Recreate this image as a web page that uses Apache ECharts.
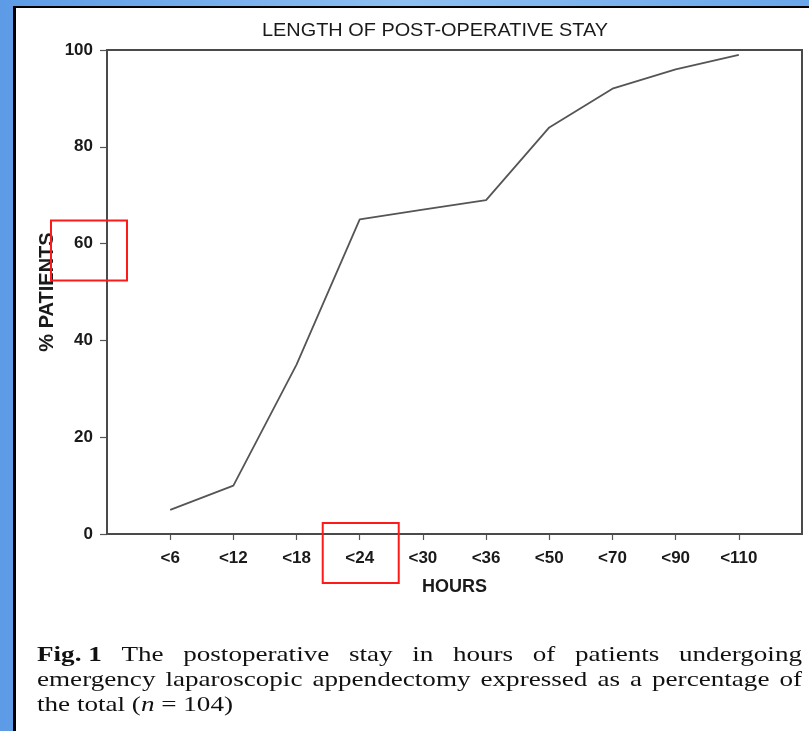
<!DOCTYPE html>
<html>
<head>
<meta charset="utf-8">
<script src="https://cdn.jsdelivr.net/npm/echarts@6/dist/echarts.min.js"></script>
<style>
html,body{margin:0;padding:0;background:#6ea8ea;}
#c{width:809px;height:731px;}
</style>
</head>
<body>
<div id="c"></div>
<script>
// ---- data ----
const categories = ['<6','<12','<18','<24','<30','<36','<50','<70','<90','<110'];
const percentPatients = [5, 10, 35, 65, 67, 69, 84, 92, 96, 99];
const yTicks = [0, 20, 40, 60, 80, 100];

const titleText = 'LENGTH OF POST-OPERATIVE STAY';
const xName = 'HOURS';
const yName = '% PATIENTS';

// padded category axis so that points sit one step in from each edge
const xCats = [''].concat(categories, ['']);
const yData = [null].concat(percentPatients, [null]);

const chart = echarts.init(document.getElementById('c'), null, {renderer:'canvas'});

const ctx = document.createElement('canvas').getContext('2d');
function tw(text, font){ ctx.font = font; return ctx.measureText(text).width; }

// ---- caption (justified) ----
const SERIF = "'Liberation Serif','Times New Roman',serif";
const FS = 21;
const fNorm = FS + 'px ' + SERIF;
const fBold = 'bold ' + FS + 'px ' + SERIF;
const fItal = 'italic ' + FS + 'px ' + SERIF;
const captionLines = [
  {justify:true, words:[[['Fig. 1', fBold]], [['The', fNorm]], [['postoperative', fNorm]], [['stay', fNorm]], [['in', fNorm]], [['hours', fNorm]], [['of', fNorm]], [['patients', fNorm]], [['undergoing', fNorm]]]},
  {justify:true, words:[[['emergency', fNorm]], [['laparoscopic', fNorm]], [['appendectomy', fNorm]], [['expressed', fNorm]], [['as', fNorm]], [['a', fNorm]], [['percentage', fNorm]], [['of', fNorm]]]},
  {justify:false, words:[[['the', fNorm]], [['total', fNorm]], [['(', fNorm], ['n', fItal]], [['=', fNorm]], [['104)', fNorm]]]}
];
const capLeft = 37, capRight = 802;
const capBase = [666, 691, 716];
const spaceW = tw(' ', fNorm);
function lineNatural(line){
  let w = 0;
  line.words.forEach((wd,i)=>{ wd.forEach(p=>{ w += tw(p[0], p[1]); }); if(i>0) w += spaceW; });
  return w;
}
// horizontal stretch derived from last (unjustified) line width in the reference (~196px)
const sx = 196 / lineNatural(captionLines[2]);

const captionGraphics = [];
captionLines.forEach((line, li)=>{
  const wordsW = line.words.map(wd => wd.reduce((s,p)=>s+tw(p[0],p[1]),0) * sx);
  const total = wordsW.reduce((a,b)=>a+b,0);
  const gaps = line.words.length - 1;
  const gap = line.justify ? (capRight - capLeft - total) / gaps : spaceW * sx;
  let x = capLeft;
  line.words.forEach((wd, wi)=>{
    let px = x;
    wd.forEach(p=>{
      captionGraphics.push({
        type:'text', x:px, y:capBase[li], scaleX:sx, z:10,
        style:{text:p[0], font:p[1], fill:'#111', textVerticalAlign:'bottom', verticalAlign:'bottom'}
      });
      px += tw(p[0], p[1]) * sx;
    });
    x += wordsW[wi] + gap;
  });
});

// ---- title ----
const TFONT = "19px 'Liberation Sans',Arial,sans-serif";
const titleScale = 346 / tw(titleText, TFONT);

const LAB = {color:'#1a1a1a', fontWeight:'bold', fontFamily:'Liberation Sans'};

const option = {
  animation:false,
  backgroundColor:'transparent',
  grid:{left:107, right:7, top:50, bottom:197, show:true, borderColor:'#4a4a4a', borderWidth:2, backgroundColor:'#fff', z:3},
  xAxis:{
    type:'category', data:xCats, boundaryGap:false,
    axisLine:{lineStyle:{color:'#6a6a6a', width:2}},
    axisTick:{show:true, length:6, lineStyle:{color:'#555', width:1.2}, interval:function(i){return i>0 && i<xCats.length-1;}},
    axisLabel:Object.assign({fontSize:17, margin:16, interval:function(i){return i>0 && i<xCats.length-1;}}, LAB),
    splitLine:{show:false},
    name:xName, nameLocation:'middle', nameGap:44, nameMoveOverlap:false,
    nameTextStyle:Object.assign({fontSize:18}, LAB)
  },
  yAxis:{
    type:'value', min:yTicks[0], max:yTicks[yTicks.length-1], interval:yTicks[1]-yTicks[0],
    axisLine:{show:true, lineStyle:{color:'#8a8a8a', width:2}},
    axisTick:{show:true, length:7, lineStyle:{color:'#555', width:1.2}},
    axisLabel:Object.assign({fontSize:17, margin:14}, LAB),
    splitLine:{show:false},
    name:yName, nameLocation:'middle', nameGap:50, nameRotate:90, nameMoveOverlap:false,
    nameTextStyle:Object.assign({fontSize:20}, LAB)
  },
  series:[{
    type:'line', data:yData, showSymbol:false, symbol:'none', connectNulls:false,
    lineStyle:{color:'#555', width:1.8}, z:5
  }],
  graphic:[]
};
chart.setOption(option);

// annotation boxes placed relative to the axes
const p24 = chart.convertToPixel({xAxisIndex:0}, '<24');
const y0 = chart.convertToPixel({yAxisIndex:0}, 0);
const y60 = chart.convertToPixel({yAxisIndex:0}, 60);

const bg = [
  {type:'rect', z:-100, shape:{x:0,y:0,width:809,height:731},
   style:{fill:new echarts.graphic.LinearGradient(0,0,1,0,[{offset:0,color:'#5d9be6'},{offset:0.5,color:'#8ebff1'},{offset:1,color:'#6aa6ea'}])}},
  {type:'rect', z:-99, shape:{x:13,y:6,width:800,height:730}, style:{fill:'#000'}},
  {type:'rect', z:-98, shape:{x:16,y:8,width:800,height:730}, style:{fill:'#fff'}},
  {type:'text', x:262, y:31, scaleX:titleScale, z:10,
   style:{text:titleText, font:TFONT, fill:'#1a1a1a', verticalAlign:'middle', textVerticalAlign:'middle'}},
  {type:'rect', z:20, shape:{x:p24-37, y:y0-11, width:76, height:60}, style:{fill:'none', stroke:'#ff1a1a', lineWidth:2}},
  {type:'rect', z:20, shape:{x:51, y:y60-23, width:76, height:60}, style:{fill:'none', stroke:'#ff1a1a', lineWidth:2}}
];
chart.setOption({graphic: bg.concat(captionGraphics)});
</script>
</body>
</html>
